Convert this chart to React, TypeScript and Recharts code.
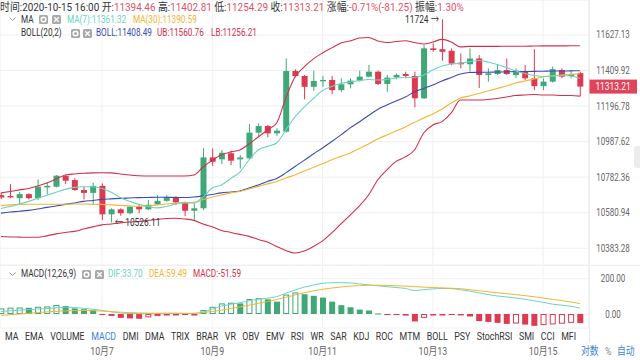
import React from "react";
import {
  ComposedChart, Bar, Line, XAxis, YAxis, CartesianGrid, ReferenceLine, ReferenceDot,
} from "recharts";

// 4h candles, 10-06 04:00 .. 10-15 16:00
const opens = [
  10680, 10675, 10663, 10686, 10663, 10724, 10728, 10789, 10766, 10709,
  10693, 10733, 10572, 10600, 10578, 10615, 10600, 10628, 10648, 10670,
  10639, 10592, 10606, 10896, 10885, 10920, 10885, 10891, 11040, 11079,
  11036, 11046, 11407, 11377, 11312, 11345, 11353, 11292, 11327, 11349,
  11373, 11403, 11329, 11369, 11389, 11377, 11243, 11545, 11540, 11530,
  11458, 11448, 11483, 11383, 11389, 11413, 11383, 11403, 11363, 11316,
  11343, 11413, 11377, 11394.46,
];
const highs = [
  10692, 10743, 10699, 10690, 10770, 10751, 10795, 10795, 10776, 10728,
  10751, 10747, 10606, 10606, 10620, 10624, 10652, 10680, 10680, 10675,
  10643, 10634, 10949, 10949, 10939, 10935, 10910, 11091, 11095, 11085,
  11066, 11484, 11418, 11383, 11409, 11377, 11377, 11363, 11363, 11409,
  11444, 11409, 11383, 11393, 11403, 11403, 11565, 11576, 11724, 11545,
  11514, 11545, 11504, 11423, 11444, 11483, 11423, 11444, 11539, 11363,
  11434, 11423, 11413, 11402.81,
];
const lows = [
  10657, 10663, 10627, 10655, 10652, 10684, 10724, 10743, 10705, 10656,
  10624, 10540, 10526.11, 10564, 10572, 10578, 10596, 10624, 10643, 10624,
  10562, 10540, 10596, 10846, 10857, 10852, 10832, 10885, 11017, 11013,
  11021, 11040, 11369, 11237, 11288, 11312, 11268, 11282, 11303, 11343,
  11369, 11323, 11282, 11357, 11363, 11190, 11239, 11524, 11470, 11442,
  11423, 11403, 11305, 11343, 11383, 11383, 11363, 11353, 11292, 11292,
  11337, 11363, 11363, 11254.29,
];
const closes = [
  10667, 10667, 10686, 10663, 10728, 10733, 10791, 10762, 10709, 10693,
  10733, 10572, 10600, 10578, 10615, 10600, 10626, 10648, 10670, 10639,
  10592, 10606, 10896, 10871, 10923, 10877, 10896, 11040, 11079, 11036,
  11052, 11407, 11377, 11312, 11347, 11353, 11292, 11327, 11349, 11373,
  11403, 11329, 11367, 11383, 11377, 11243, 11545, 11535, 11524, 11452,
  11448, 11483, 11383, 11393, 11413, 11389, 11409, 11363, 11316, 11343,
  11418, 11373, 11389, 11313.21,
];
const ma7 = [
  10605, 10616, 10630, 10645, 10662, 10679, 10696, 10713, 10724, 10728,
  10728, 10718, 10696, 10667, 10645, 10628, 10616, 10608, 10616, 10630,
  10639, 10636, 10670, 10721, 10738, 10775, 10812, 10882, 10939, 10960,
  10980, 11056, 11133, 11191, 11242, 11290, 11314, 11332, 11341, 11350,
  11356, 11353, 11356, 11365, 11368, 11368, 11383, 11413, 11438, 11450,
  11454, 11464, 11471, 11462, 11447, 11429, 11407, 11392, 11380, 11374,
  11377, 11380, 11377, 11361.32,
];
const ma30 = [
  10621, 10625, 10628, 10629, 10629, 10629, 10629, 10629, 10630, 10630,
  10629, 10628, 10625, 10622, 10619, 10617, 10619, 10625, 10630, 10634,
  10636, 10639, 10656, 10670, 10681, 10693, 10701, 10715, 10730, 10744,
  10758, 10778, 10795, 10818, 10838, 10859, 10882, 10902, 10922, 10948,
  10974, 11003, 11027, 11050, 11074, 11100, 11127, 11150, 11180, 11215,
  11245, 11257, 11272, 11287, 11302, 11317, 11335, 11347, 11359, 11371,
  11377, 11383, 11387, 11390.59,
];
const bollMid = [
  10579, 10585, 10589, 10594, 10602, 10611, 10619, 10628, 10636, 10645,
  10650, 10656, 10659, 10662, 10664, 10666, 10667, 10668, 10668, 10667,
  10667, 10670, 10676, 10684, 10693, 10698, 10704, 10721, 10738, 10758,
  10775, 10807, 10844, 10879, 10916, 10951, 10988, 11027, 11068, 11103,
  11141, 11177, 11203, 11227, 11251, 11281, 11302, 11323, 11347, 11368,
  11389, 11398, 11399, 11400, 11401, 11402, 11404, 11404, 11405, 11406,
  11407, 11407, 11408, 11408.49,
];
const bollUp = [
  10693, 10701, 10710, 10718, 10732, 10749, 10772, 10795, 10801, 10805,
  10807, 10808, 10807, 10801, 10795, 10791, 10789, 10789, 10789, 10789,
  10789, 10795, 10841, 10879, 10911, 10928, 10939, 10974, 11015, 11056,
  11097, 11245, 11371, 11432, 11481, 11517, 11548, 11578, 11590, 11609,
  11612, 11590, 11581, 11587, 11592, 11581, 11572, 11584, 11600, 11584,
  11554, 11557, 11557, 11557, 11557, 11558, 11558, 11558, 11559, 11560,
  11560, 11560, 11561, 11560.76,
];
const bollLow = [
  10448, 10446, 10445, 10444, 10444, 10452, 10463, 10471, 10477, 10490,
  10502, 10513, 10518, 10524, 10529, 10532, 10538, 10543, 10549, 10550,
  10546, 10538, 10518, 10502, 10482, 10471, 10460, 10449, 10432, 10418,
  10393, 10371, 10357, 10368, 10393, 10424, 10468, 10518, 10568, 10619,
  10681, 10766, 10824, 10873, 10899, 10939, 11038, 11085, 11105, 11156,
  11233, 11233, 11233, 11236, 11242, 11251, 11260, 11263, 11266, 11263,
  11263, 11260, 11260, 11256.21,
];
const macdHist = [
  32, 36, 37, 35, 41, 43, 51, 45, 32, 27,
  23, -3, -11, -22, -25, -27, -19, -12, -8, -5,
  -6, -4, 23, 41, 60, 64, 60, 85, 90, 83,
  70, 110, 122, 112, 103, 93, 70, 50, 38, 25,
  20, 3, -4, -5, -9, -42, -22, -6, -4, -5,
  -8, -14, -40, -45, -50, -56, -54, -60, -67, -63,
  -59, -55, -50, -51.59,
];
const dif = [
  14, 18, 22, 25, 28, 31, 35, 38, 36, 32,
  27, 20, 12, 6, 3, 2, 2, 3, 4, 4,
  3, 3, 12, 28, 45, 55, 64, 75, 84, 90,
  98, 118, 136, 152, 164, 174, 177, 178, 176, 171,
  165, 160, 155, 150, 145, 133, 138, 142, 145, 144,
  138, 130, 120, 110, 102, 97, 91, 84, 75, 66,
  56, 50, 44, 33.7,
];
const dea = [
  -8, -4, 0, 4, 8, 12, 15, 18, 19, 20,
  19, 17, 14, 10, 8, 6, 5, 4, 4, 4,
  4, 4, 8, 14, 22, 31, 40, 50, 60, 70,
  82, 95, 108, 120, 131, 140, 147, 153, 158, 161,
  163, 163, 162, 160, 158, 155, 152, 150, 148, 146,
  143, 138, 132, 126, 120, 115, 110, 104, 98, 90,
  83, 76, 68, 59.49,
];

const priceTicks = [10383.28, 10580.94, 10782.36, 10987.62, 11196.78, 11409.92, 11627.13];
const macdTicks = [0, 200];
const dateTicks = [11, 23, 35, 47, 59];
const dateLabels = ["10月7", "10月9", "10月11", "10月13", "10月15"];
const tabs = [
  "MA", "EMA", "VOLUME", "MACD", "DMI", "DMA", "TRIX", "BRAR", "VR", "OBV", "EMV", "RSI",
  "WR", "SAR", "KDJ", "ROC", "MTM", "BOLL", "PSY", "StochRSI", "SMI", "CCI", "MFI",
];
const headerFields = [
  ["开", "11394.46"], ["高", "11402.81"], ["低", "11254.29"], ["收", "11313.21"],
  ["涨幅", "-0.71%(-81.25)"], ["振幅", "1.30%"],
];

const kData = opens.map((o, i) => ({
  i, open: o, high: highs[i], low: lows[i], close: closes[i],
  ma7: ma7[i], ma30: ma30[i], boll: bollMid[i], ub: bollUp[i], lb: bollLow[i],
}));
const macdData = macdHist.map((m, i) => ({ i, macd: m, dif: dif[i], dea: dea[i] }));

const UP = "#40a877";
const DOWN = "#dd3a50";
const C_MA7 = "#6cd3c2";
const C_MA30 = "#f3b533";
const C_BOLL = "#3b4cb5";
const C_BAND = "#d2304c";
const RED_TXT = "#e0526a";
const FONT = 'Roboto, "Noto Sans CJK SC", sans-serif';
const X_DOMAIN: [number, number] = [-0.098, 63.99];

const Candle = (props: any) => {
  const { x, y, width, height, payload } = props;
  const { open, close, high, low } = payload;
  const color = close >= open ? UP : DOWN;
  const top = Math.min(y, y + height);
  const h = Math.abs(height);
  const lh = Math.log(high);
  const span = lh - Math.log(low) || 1;
  // log scale: position inside the high-low range
  const py = (v: number) => top + ((lh - Math.log(v)) / span) * h;
  const bTop = py(Math.max(open, close));
  const bBot = py(Math.min(open, close));
  const cx = x + width / 2;
  return (
    <g>
      <line x1={cx} x2={cx} y1={top} y2={top + h} stroke={color} strokeWidth={1} />
      <rect x={x} y={bTop} width={width} height={Math.max(1, bBot - bTop)} fill={color} />
    </g>
  );
};

const MacdBar = (props: any) => {
  const { x, y, width, height, payload } = props;
  const v = payload.macd;
  const prev = payload.i > 0 ? macdHist[payload.i - 1] : -Infinity;
  const color = v >= 0 ? UP : DOWN;
  const top = Math.min(y, y + height);
  const h = Math.max(Math.abs(height), 1);
  if (v >= prev) {
    return (
      <rect x={x + 0.5} y={top + 0.5} width={width - 1} height={Math.max(h - 1, 0.5)}
        fill="#fff" stroke={color} strokeWidth={1} />
    );
  }
  return <rect x={x} y={top} width={width} height={h} fill={color} />;
};

const AxisTick = (fmt: (v: number) => string) => (p: any) => (
  <text transform={`translate(${p.x + 16},${p.y + 3.5}) scale(0.8,1)`} textAnchor="middle"
    fontSize={10} fill="#666" fontFamily={FONT}>
    {fmt(p.payload.value)}
  </text>
);

const DateTick = (p: any) => (
  <text transform={`translate(${p.x},${p.y + 19}) scale(0.8,1)`} textAnchor="middle"
    fontSize={11} fill="#666" fontFamily={FONT}>
    {dateLabels[dateTicks.indexOf(p.payload.value)]}
  </text>
);

const PriceTag = (p: any) => {
  const vb = p.viewBox;
  const x0 = vb.x + vb.width;
  return (
    <g>
      <rect x={x0} y={vb.y - 7} width={48} height={14} fill="#e0445a" />
      <text transform={`translate(${x0 + 24},${vb.y + 3.5}) scale(0.8,1)`} textAnchor="middle"
        fontSize={10.5} fill="#fff" fontFamily={FONT}>11313.21</text>
    </g>
  );
};

const MarkLabel = (text: string, side: "left" | "right") => (p: any) => {
  const vb = p.viewBox;
  const cx = vb.x + (vb.width || 0) / 2;
  const cy = vb.y + (vb.height || 0) / 2;
  const tx = side === "left" ? cx - 3 : cx + 3.5;
  return (
    <text transform={`translate(${tx},${cy + 3.5}) scale(0.8,1)`}
      textAnchor={side === "left" ? "end" : "start"} fontSize={10.5} fill="#333" fontFamily={FONT}>
      {text}
    </text>
  );
};

function Txt({ x, y, color = "#333", size = 10.5, sx = 0.78, children }: any) {
  return (
    <div style={{
      position: "absolute", left: x, top: y - 7, height: 14, lineHeight: "14px", fontSize: size,
      color, whiteSpace: "nowrap", transform: `scaleX(${sx})`, transformOrigin: "0 50%",
    }}>
      {children}
    </div>
  );
}

function Icon({ x, y, kind }: { x: number; y: number; kind: "gear" | "close" }) {
  return (
    <svg style={{ position: "absolute", left: x, top: y - 4.5 }} width={9} height={9}>
      <rect width={9} height={9} rx={1.5} fill="#a9a9a9" />
      {kind === "gear"
        ? <circle cx={4.5} cy={4.5} r={2.3} fill="none" stroke="#fff" strokeWidth={1.5} />
        : <path d="M2.3 2.3 L6.7 6.7 M6.7 2.3 L2.3 6.7" stroke="#fff" strokeWidth={1.3} />}
    </svg>
  );
}

function Chevron({ x, y }: { x: number; y: number }) {
  return (
    <svg style={{ position: "absolute", left: x, top: y - 2 }} width={7} height={5}>
      <polyline points="0.5,0.5 3.5,3.5 6.5,0.5" fill="none" stroke="#999" strokeWidth={1} />
    </svg>
  );
}

export default function App() {
  return (
    <div style={{
      position: "absolute", left: 0, top: 0, width: 640, height: 360, background: "#fff",
      overflow: "hidden", fontFamily: FONT,
    }}>
      <div style={{ position: "absolute", left: 0, top: 0 }}>
        <ComposedChart width={640} height={265} data={kData} margin={{ top: 0, right: 0, bottom: 0, left: 0 }}>
          <CartesianGrid stroke="#f0f0f0" />
          <XAxis dataKey="i" type="number" domain={X_DOMAIN} allowDataOverflow ticks={dateTicks} hide />
          <YAxis
            orientation="right" width={51} type="number" scale="log"
            domain={[10291.6, 11845.0]} allowDataOverflow ticks={priceTicks}
            axisLine={{ stroke: "#e6e6e6" }} tickLine={false}
            tick={AxisTick((v) => v.toFixed(2))}
          />
          <Line dataKey="ub" type="monotone" stroke={C_BAND} strokeWidth={1.1} dot={false} isAnimationActive={false} />
          <Line dataKey="lb" type="monotone" stroke={C_BAND} strokeWidth={1.1} dot={false} isAnimationActive={false} />
          <Line dataKey="boll" type="monotone" stroke={C_BOLL} strokeWidth={1.1} dot={false} isAnimationActive={false} />
          <Line dataKey="ma30" type="monotone" stroke={C_MA30} strokeWidth={1.1} dot={false} isAnimationActive={false} />
          <Bar dataKey={(d: any) => [d.low, d.high]} barSize={6} shape={Candle} isAnimationActive={false} />
          <Line dataKey="ma7" type="monotone" stroke={C_MA7} strokeWidth={1.1} dot={false} isAnimationActive={false} />
          <ReferenceLine y={11313.21} strokeOpacity={0} label={PriceTag} />
          <ReferenceDot x={48} y={11724} r={0} label={MarkLabel("11724 →", "left")} />
          <ReferenceDot x={12} y={10526.11} r={0} label={MarkLabel("← 10526.11", "right")} />
        </ComposedChart>
      </div>

      <div style={{ position: "absolute", left: 0, top: 265, width: 640, borderTop: "1px solid #ececec" }} />

      <div style={{ position: "absolute", left: 0, top: 265 }}>
        <ComposedChart width={640} height={95} data={macdData} margin={{ top: 0, right: 0, bottom: 0, left: 0 }}>
          <CartesianGrid stroke="#f2f2f2" />
          <XAxis
            dataKey="i" type="number" domain={X_DOMAIN} allowDataOverflow ticks={dateTicks}
            height={32} axisLine={false} tickLine={false} tick={DateTick}
          />
          <YAxis
            orientation="right" width={51} type="number" domain={[-79.3, 277.6]} allowDataOverflow
            ticks={macdTicks} axisLine={{ stroke: "#e6e6e6" }} tickLine={false}
            tick={AxisTick((v) => v.toFixed(2))}
          />
          <Bar dataKey="macd" barSize={6} shape={MacdBar} isAnimationActive={false} />
          <Line dataKey="dif" type="monotone" stroke={C_MA7} strokeWidth={1} dot={false} isAnimationActive={false} />
          <Line dataKey="dea" type="monotone" stroke={C_MA30} strokeWidth={1} dot={false} isAnimationActive={false} />
        </ComposedChart>
      </div>
      <div style={{ position: "absolute", left: 589, top: 328, width: 1, height: 15, background: "#e6e6e6" }} />

      {/* header rows */}
      <Txt x={0} y={7} size={11.5} sx={0.86}>
        时间:2020-10-15 16:00{" "}
        {headerFields.map(([k, v]) => (
          <span key={k}>{k}:<span style={{ color: RED_TXT }}>{v}</span>{" "}</span>
        ))}
      </Txt>
      <Chevron x={9} y={19} />
      <Txt x={21} y={19.5}>MA</Txt>
      <Icon x={39} y={19.5} kind="gear" />
      <Icon x={52} y={19.5} kind="close" />
      <Txt x={67} y={19.5} color={C_MA7}>MA(7):11361.32</Txt>
      <Txt x={133} y={19.5} color={C_MA30}>MA(30):11390.59</Txt>
      <Txt x={21} y={33}>BOLL(20,2)</Txt>
      <Icon x={71} y={33} kind="gear" />
      <Icon x={83} y={33} kind="close" />
      <Txt x={96} y={33} color={C_BOLL}>BOLL:11408.49</Txt>
      <Txt x={157} y={33} color={C_BAND}>UB:11560.76</Txt>
      <Txt x={211} y={33} color={C_BAND}>LB:11256.21</Txt>

      {/* MACD header */}
      <Chevron x={9} y={274} />
      <Txt x={21} y={274}>MACD(12,26,9)</Txt>
      <Icon x={82} y={274} kind="gear" />
      <Icon x={95} y={274} kind="close" />
      <Txt x={108} y={274} color={C_MA7}>DIF:33.70</Txt>
      <Txt x={149} y={274} color={C_MA30}>DEA:59.49</Txt>
      <Txt x={193} y={274} color={C_BAND}>MACD:-51.59</Txt>

      {/* indicator tabs */}
      <div style={{
        position: "absolute", left: 5, top: 330, height: 14, lineHeight: "14px", display: "flex",
        gap: 8.2, fontSize: 11, color: "#333", whiteSpace: "nowrap",
        transform: "scaleX(0.8)", transformOrigin: "0 50%",
      }}>
        {tabs.map((t) => (
          <span key={t} style={{ color: t === "MACD" ? "#3d7fd9" : "#333" }}>{t}</span>
        ))}
      </div>

      <Txt x={581} y={352} color="#3d7fd9" size={11} sx={0.8}>对数</Txt>
      <Txt x={605} y={352} color="#888" size={11} sx={0.8}>%</Txt>
      <Txt x={617} y={352} color="#3d7fd9" size={11} sx={0.8}>自动</Txt>

      <div style={{
        position: "absolute", left: 634, top: 146, width: 6, height: 22, background: "#ececec",
        borderRadius: "3px 0 0 3px",
      }} />
    </div>
  );
}
